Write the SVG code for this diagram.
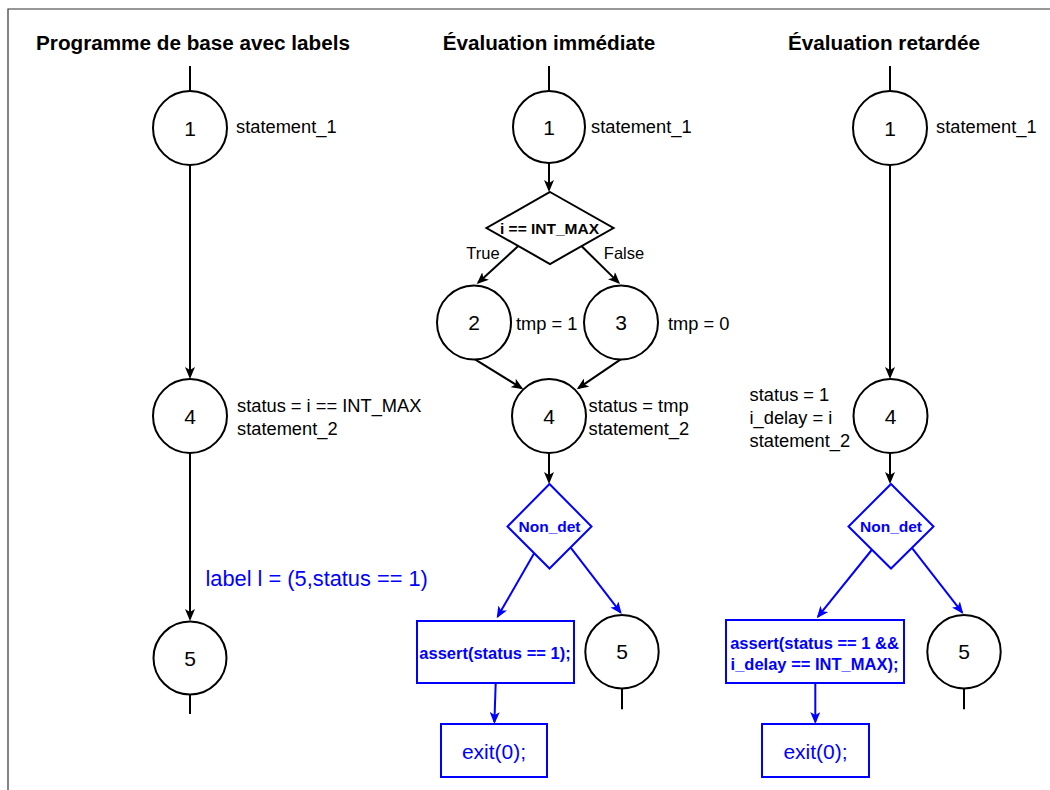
<svg xmlns="http://www.w3.org/2000/svg" width="1050" height="790" viewBox="0 0 1050 790">
<style>
text { font-family: "Liberation Sans", Arial, sans-serif; fill: #000; }
.title { font-size: 20.7px; font-weight: bold; text-anchor: middle; dominant-baseline: central; }
.num { font-size: 21px; text-anchor: middle; dominant-baseline: central; }
.lbl { font-size: 18.3px; dominant-baseline: central; }
.small { font-size: 16.5px; text-anchor: middle; dominant-baseline: central; }
.bold { font-size: 15.5px; font-weight: bold; text-anchor: middle; dominant-baseline: central; }
.bbold { font-size: 16.5px; font-weight: bold; text-anchor: middle; dominant-baseline: central; fill: #0000FF; }
.blue { fill: #0000FF; }
.circ { fill: #fff; stroke: #000; stroke-width: 2; }
.bshape { fill: #fff; stroke: #0000FF; stroke-width: 2; }
.kshape { fill: #fff; stroke: #000; stroke-width: 2; }
.k { fill: none; stroke: #000; stroke-width: 2; }
.ka { fill: none; stroke: #000; stroke-width: 2; marker-end: url(#ak); }
.ba { fill: none; stroke: #0000FF; stroke-width: 2; marker-end: url(#ab); }
.frame { fill: none; stroke: #333; stroke-width: 1.2; }
</style>
<defs>
<marker id="ak" viewBox="0 0 12 10" refX="10" refY="5" markerWidth="12" markerHeight="10" markerUnits="userSpaceOnUse" orient="auto">
<path d="M0,0 L12,5 L0,10 L3,5 Z" fill="#000"/>
</marker>
<marker id="ab" viewBox="0 0 12 10" refX="10" refY="5" markerWidth="12" markerHeight="10" markerUnits="userSpaceOnUse" orient="auto">
<path d="M0,0 L12,5 L0,10 L3,5 Z" fill="#0000FF"/>
</marker>
</defs>
<rect width="1050" height="790" fill="#fff"/>
<path class="frame" d="M8,790 L8,9 L1050,9"/>

<g id="titles">
<text class="title" x="193" y="42.5">Programme de base avec labels</text>
<text class="title" x="549" y="42.5">Évaluation immédiate</text>
<text class="title" x="884" y="42.5">Évaluation retardée</text>
</g>

<g id="connectors">
<!-- column 1 -->
<path class="k" d="M190,66 L190,91"/>
<path class="ka" d="M190,165 L190,377"/>
<path class="ka" d="M190,453 L190,619"/>
<path class="k" d="M190,695 L190,714"/>
<!-- column 2 -->
<path class="k" d="M549,66 L549,91.5"/>
<path class="ka" d="M549,162 L549,190"/>
<path class="ka" d="M518,246.3 L478.2,282.7"/>
<path class="ka" d="M581.7,246.3 L618.6,282.6"/>
<path class="ka" d="M475,359.3 L521.6,388.2"/>
<path class="ka" d="M620.7,359.3 L578.4,388.2"/>
<path class="ka" d="M549,453.5 L549,482"/>
<path class="ba" d="M534.3,553 L497.7,616.6"/>
<path class="ba" d="M570.7,547.7 L620.5,612.4"/>
<path class="ba" d="M495.7,683 L494.4,722"/>
<path class="k" d="M622,688.5 L622,709.3"/>
<!-- column 3 -->
<path class="k" d="M890,66 L890,91"/>
<path class="ka" d="M890,165 L890,377"/>
<path class="ka" d="M890,453 L890,482"/>
<path class="ba" d="M871.7,550 L818,616.7"/>
<path class="ba" d="M912.3,548.3 L962.1,612.4"/>
<path class="ba" d="M815.3,683 L815.3,722"/>
<path class="k" d="M964,688.5 L964,709.3"/>
</g>

<g id="edge-labels">
<text class="small" x="483" y="253">True</text>
<text class="small" x="624" y="253">False</text>
<text class="blue" x="205.5" y="578.5" style="font-size:21.8px;dominant-baseline:central">label l = (5,status == 1)</text>
</g>

<!-- column 1 nodes -->
<g id="c1-n1">
<circle class="circ" cx="190" cy="128" r="37"/>
<text class="num" x="190" y="128">1</text>
<text class="lbl" x="236" y="126">statement_1</text>
</g>
<g id="c1-n4">
<circle class="circ" cx="190" cy="416" r="37"/>
<text class="num" x="190" y="416">4</text>
<text class="lbl" x="237" y="405">status = i == INT_MAX</text>
<text class="lbl" x="237" y="428">statement_2</text>
</g>
<g id="c1-n5">
<circle class="circ" cx="190" cy="658" r="36.5"/>
<text class="num" x="190" y="658">5</text>
</g>

<!-- column 2 nodes -->
<g id="c2-n1">
<circle class="circ" cx="549" cy="127" r="36"/>
<text class="num" x="549" y="127">1</text>
<text class="lbl" x="591" y="126">statement_1</text>
</g>
<g id="c2-cond">
<polygon class="kshape" points="550,192 613.5,228 550,264 486.5,228"/>
<text class="bold" x="549.5" y="228">i == INT_MAX</text>
</g>
<g id="c2-n2">
<circle class="circ" cx="474" cy="322.5" r="37"/>
<text class="num" x="474" y="322.5">2</text>
<text class="lbl" x="516" y="323">tmp = 1</text>
</g>
<g id="c2-n3">
<circle class="circ" cx="621" cy="322.5" r="37"/>
<text class="num" x="621" y="322.5">3</text>
<text class="lbl" x="668" y="323">tmp = 0</text>
</g>
<g id="c2-n4">
<circle class="circ" cx="549" cy="416" r="37"/>
<text class="num" x="549" y="416">4</text>
<text class="lbl" x="588.5" y="405">status = tmp</text>
<text class="lbl" x="588.5" y="428">statement_2</text>
</g>
<g id="c2-nondet">
<polygon class="bshape" points="549.5,484 591.5,526.5 549.5,568.5 507.5,526.5"/>
<text class="bold blue" x="549.5" y="526.5">Non_det</text>
</g>
<g id="c2-assert">
<rect class="bshape" x="417" y="621" width="157" height="62"/>
<text class="bbold" x="495" y="652.5">assert(status == 1);</text>
</g>
<g id="c2-exit">
<rect class="bshape" x="441" y="724" width="106" height="53"/>
<text class="blue" x="494" y="751" style="font-size:21px;text-anchor:middle;dominant-baseline:central">exit(0);</text>
</g>
<g id="c2-n5">
<circle class="circ" cx="622" cy="651.7" r="36.7"/>
<text class="num" x="622" y="651.7">5</text>
</g>

<!-- column 3 nodes -->
<g id="c3-n1">
<circle class="circ" cx="890" cy="128" r="37"/>
<text class="num" x="890" y="128">1</text>
<text class="lbl" x="936" y="126">statement_1</text>
</g>
<g id="c3-n4">
<circle class="circ" cx="890.5" cy="416" r="37"/>
<text class="num" x="890.5" y="416">4</text>
<text class="lbl" x="749.5" y="394">status = 1</text>
<text class="lbl" x="749.5" y="417">i_delay = i</text>
<text class="lbl" x="749.5" y="440">statement_2</text>
</g>
<g id="c3-nondet">
<polygon class="bshape" points="891,484 933.5,526.5 891,568.5 848.5,526.5"/>
<text class="bold blue" x="891" y="526.5">Non_det</text>
</g>
<g id="c3-assert">
<rect class="bshape" x="726" y="620" width="178" height="63"/>
<text class="bbold" x="814.5" y="642.7">assert(status == 1 &amp;&amp;</text>
<text class="bbold" x="814.5" y="663.5">i_delay == INT_MAX);</text>
</g>
<g id="c3-exit">
<rect class="bshape" x="762" y="724" width="107" height="53"/>
<text class="blue" x="815.5" y="751" style="font-size:21px;text-anchor:middle;dominant-baseline:central">exit(0);</text>
</g>
<g id="c3-n5">
<circle class="circ" cx="964" cy="651.7" r="36.7"/>
<text class="num" x="964" y="651.7">5</text>
</g>
</svg>
